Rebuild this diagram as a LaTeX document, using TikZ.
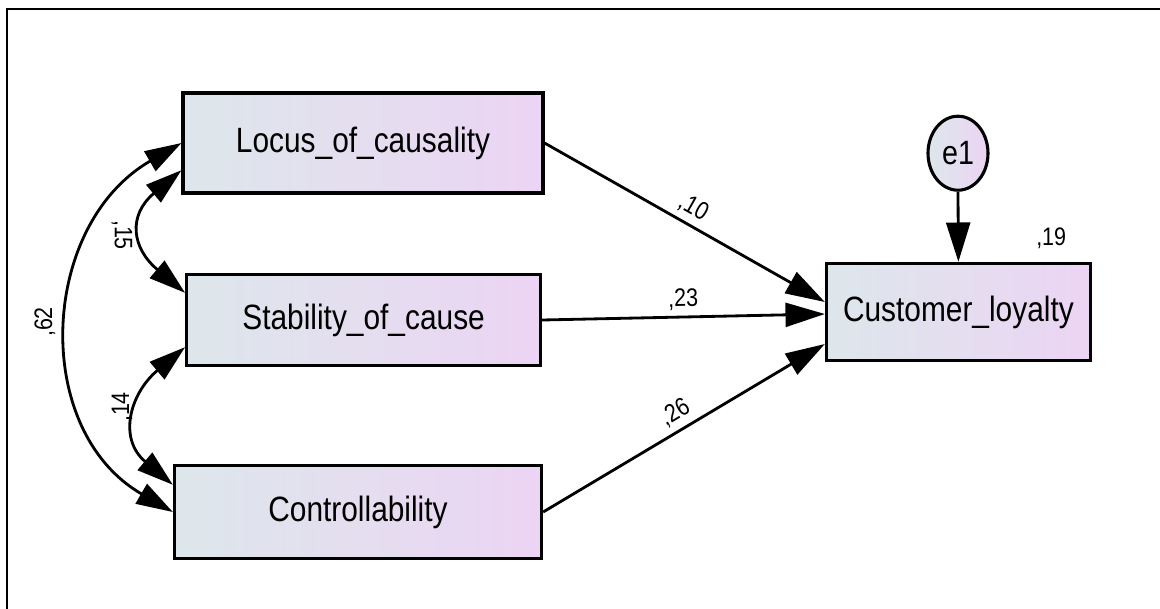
\documentclass[tikz,border=0pt]{standalone}
\usepackage{fontspec}
\newfontfamily\amosfont[FakeStretch=0.85]{Liberation Sans}
\usetikzlibrary{arrows.meta,shapes.geometric}
\definecolor{boxleft}{RGB}{221,231,235}
\definecolor{boxright}{RGB}{236,212,244}
\begin{document}
\begin{tikzpicture}[
  var/.style={draw=black, line width=2.2pt, left color=boxleft, right color=boxright,
    font=\amosfont\fontsize{25pt}{30pt}\selectfont, inner sep=0pt},
  err/.style={var, ellipse, minimum width=1.5cm, minimum height=1.85cm,
    font=\amosfont\fontsize{24pt}{28pt}\selectfont},
  lbl/.style={font=\amosfont\fontsize{18pt}{22pt}\selectfont, inner sep=4pt},
  path/.style={line width=2pt, -{Triangle[length=28pt,width=17pt]}},
  cov/.style={line width=2pt, {Triangle[length=26pt,width=16pt]}-{Triangle[length=26pt,width=16pt]}}
]
\useasboundingbox (0,0) rectangle (29,-15.2);
\draw[line width=1.8pt] (0.175,-15.3) -- (0.175,-0.225) -- (29.2,-0.225);

\node[var, minimum width=9.0cm, minimum height=2.5cm] (loc) at (9.075,-3.575) {Locus\_of\_causality};
\node[var, minimum width=8.85cm, minimum height=2.28cm] (stab) at (9.09,-8.0) {Stability\_of\_cause};
\node[var, minimum width=9.18cm, minimum height=2.33cm] (ctrl) at (8.95,-12.8) {Controllability};
\node[var, minimum width=6.6cm, minimum height=2.43cm] (cust) at (23.96,-7.8) {Customer\_loyalty};
\node[err] (e1) at (23.95,-3.83) {e1};
\node[lbl] (r19) at (26.28,-5.95) {,19};

% regression paths
\draw[path] (loc.east) -- node[pos=0.5, above, sloped, lbl] (w10) {,10} ([yshift=0.25cm]cust.west);
\draw[path] (stab.east) -- node[pos=0.5, above, sloped, lbl] (w23) {,23} ([yshift=-0.05cm]cust.west);
\draw[path] (ctrl.east) -- node[pos=0.5, above, sloped, lbl] (w26) {,26} ([yshift=-0.8cm]cust.west);
\draw[path] (e1.south) -- (cust.north);

% covariances
\draw[cov] (ctrl.west) .. controls +(150:4.1cm) and +(210:4.1cm) .. (loc.west);
\draw[cov] ([yshift=-0.68cm]loc.west) .. controls +(220:1.75cm) and +(140:1.75cm) .. ([yshift=0.68cm]stab.west);
\draw[cov] ([yshift=0.68cm]ctrl.west) .. controls +(140:1.8cm) and +(220:1.8cm) .. ([yshift=-0.68cm]stab.west);
\node[lbl, rotate=90] (c62) at (1.125,-8.05) {,62};
\node[lbl, rotate=-90] (c15) at (3.05,-5.875) {,15};
\node[lbl, rotate=90] (c14) at (3.05,-10.175) {,14};
\end{tikzpicture}
\end{document}
